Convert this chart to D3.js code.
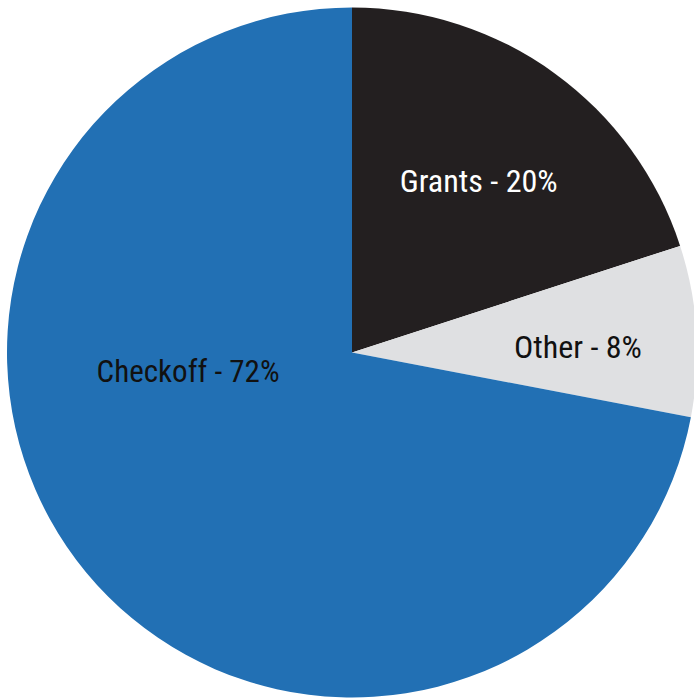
<!DOCTYPE html>
<html>
<head>
<meta charset="utf-8">
<script src="https://cdn.jsdelivr.net/npm/d3@7"></script>
<style>
  html, body { margin: 0; padding: 0; background: #ffffff; }
  svg { display: block; }
</style>
</head>
<body>
<svg id="chart" width="694" height="699"></svg>
<script>
const categories = ["Grants", "Other", "Checkoff"];
const values = [20, 8, 72];
const labels = ["Grants - 20%", "Other - 8%", "Checkoff - 72%"];
const colors = ["#231f20", "#dfe0e2", "#2270b4"];
const textColors = ["#ffffff", "#111111", "#111111"];

const width = 694, height = 699;
const cx = 352, cy = 352.5, radius = 345;

const svg = d3.select("#chart");
const g = svg.append("g").attr("transform", `translate(${cx},${cy})`);

const pie = d3.pie().sort(null).value(d => d)(values);
// actual drawn angles in the reference are slightly smaller for "Other"
const arc = d3.arc().innerRadius(0).outerRadius(radius);

g.selectAll("path")
  .data(pie)
  .join("path")
  .attr("d", arc)
  .attr("fill", (d, i) => colors[i]);

// label placement: polar (angle in degrees from top, radius) relative to center
const labelAngle = [36.5, 88.5, 263.5];
const labelRadius = [213, 226, 165];
const labelWidth = [158, 128, 183];

g.selectAll("text")
  .data(labels)
  .join("text")
  .attr("x", (d, i) => labelRadius[i] * Math.sin(labelAngle[i] * Math.PI / 180))
  .attr("y", (d, i) => -labelRadius[i] * Math.cos(labelAngle[i] * Math.PI / 180))
  .attr("text-anchor", "middle")
  .attr("dominant-baseline", "central")
  .attr("font-family", "'Liberation Sans Narrow', 'Roboto Condensed', 'DejaVu Sans Condensed', sans-serif")
  .attr("font-stretch", "condensed")
  .attr("font-size", 32)
  .attr("fill", (d, i) => textColors[i])
  .attr("textLength", (d, i) => labelWidth[i])
  .attr("lengthAdjust", "spacingAndGlyphs")
  .text(d => d);
</script>
</body>
</html>
